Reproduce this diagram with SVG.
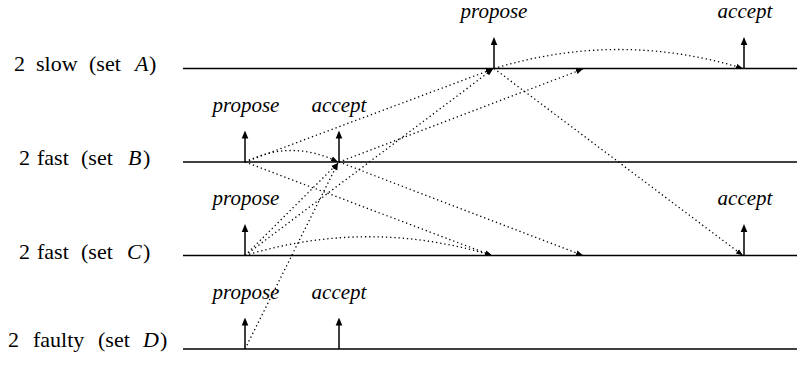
<svg xmlns="http://www.w3.org/2000/svg" width="797" height="365" viewBox="0 0 797 365">
  <style>
    .who{font-family:"Liberation Serif","DejaVu Serif",serif;font-size:22px;fill:#000}
    .it{font-style:italic}
    .ev{font-family:"Liberation Serif","DejaVu Serif",serif;font-style:italic;font-size:21px;fill:#000;text-anchor:middle}
    .axis{stroke:#000;stroke-width:1.4;fill:none}
    .tick{stroke:#000;stroke-width:1.5;fill:none;marker-end:url(#up)}
    .msg{stroke:#000;stroke-width:1.3;stroke-dasharray:1.3 2.9;fill:none;marker-end:url(#tip)}
  </style>
  <defs>
    <!-- solid head for event ticks -->
    <marker id="up" markerUnits="userSpaceOnUse" viewBox="0 0 8 10" markerWidth="8" markerHeight="10" refX="3" refY="5" orient="auto">
      <path d="M0,1.7 L8,5 L0,8.3 Z" fill="#000"/>
    </marker>
    <!-- small head for message arrows -->
    <marker id="tip" markerUnits="userSpaceOnUse" viewBox="0 0 7 6" markerWidth="7" markerHeight="6" refX="7" refY="3" orient="auto">
      <path d="M0,0.3 L7,3 L0,5.7 Z" fill="#000"/>
    </marker>
  </defs>

  <!-- set A -->
  <g id="set-a">
    <text class="who" y="71"><tspan x="14">2</tspan><tspan x="36">slow</tspan><tspan x="89">(set</tspan><tspan x="135" class="it">A</tspan><tspan x="149">)</tspan></text>
    <line class="axis" x1="183" y1="68.5" x2="797" y2="68.5"/>
    <line class="tick" x1="494" y1="68.5" x2="494" y2="42"/>
    <line class="tick" x1="744" y1="68.5" x2="744" y2="42"/>
    <text class="ev" x="494" y="18">propose</text>
    <text class="ev" x="745" y="18">accept</text>
  </g>

  <!-- set B -->
  <g id="set-b">
    <text class="who" y="165"><tspan x="19">2</tspan><tspan x="37">fast</tspan><tspan x="81">(set</tspan><tspan x="128" class="it">B</tspan><tspan x="143">)</tspan></text>
    <line class="axis" x1="183" y1="162" x2="797" y2="162"/>
    <line class="tick" x1="245" y1="162" x2="245" y2="135.5"/>
    <line class="tick" x1="339" y1="162" x2="339" y2="135.5"/>
    <text class="ev" x="246" y="111.5">propose</text>
    <text class="ev" x="339" y="111.5">accept</text>
  </g>

  <!-- set C -->
  <g id="set-c">
    <text class="who" y="258.5"><tspan x="19">2</tspan><tspan x="37">fast</tspan><tspan x="81">(set</tspan><tspan x="127" class="it">C</tspan><tspan x="143">)</tspan></text>
    <line class="axis" x1="183" y1="255.5" x2="797" y2="255.5"/>
    <line class="tick" x1="245" y1="255.5" x2="245" y2="229"/>
    <line class="tick" x1="744" y1="255.5" x2="744" y2="229"/>
    <text class="ev" x="246" y="205">propose</text>
    <text class="ev" x="745" y="205">accept</text>
  </g>

  <!-- set D -->
  <g id="set-d">
    <text class="who" y="347"><tspan x="8">2</tspan><tspan x="33">faulty</tspan><tspan x="98">(set</tspan><tspan x="143" class="it">D</tspan><tspan x="160">)</tspan></text>
    <line class="axis" x1="183" y1="349" x2="797" y2="349"/>
    <line class="tick" x1="245" y1="349" x2="245" y2="322.5"/>
    <line class="tick" x1="339" y1="349" x2="339" y2="322.5"/>
    <text class="ev" x="246" y="298.5">propose</text>
    <text class="ev" x="339" y="298.5">accept</text>
  </g>

  <!-- messages -->
  <g id="messages">
    <path class="msg" d="M245,162 L493,69"/>
    <path class="msg" d="M245,162 Q292,139 338,162"/>
    <path class="msg" d="M245,162 L492,255.5"/>
    <path class="msg" d="M339,162 L583,69"/>
    <path class="msg" d="M339,162 L583,255.5"/>
    <path class="msg" d="M245,255.5 L338,163"/>
    <path class="msg" d="M245,255.5 L493,69"/>
    <path class="msg" d="M245,255.5 Q368.5,218 492,255.5"/>
    <path class="msg" d="M245,349 L338,163"/>
    <path class="msg" d="M494,68.5 Q619,30.5 743,68.5"/>
    <path class="msg" d="M494,68.5 L743,255.5"/>
  </g>
</svg>
